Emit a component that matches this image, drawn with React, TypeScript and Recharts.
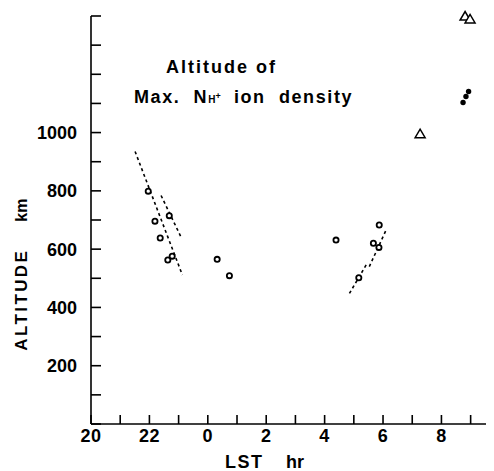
import React from 'react';
import { ScatterChart, Scatter, XAxis, YAxis, ReferenceLine } from 'recharts';

// ---- data (LST in hours, altitude in km) ----
const circleLST = [21.96, 22.19, 22.68, 22.37, 22.63, 22.78, 0.32, 0.74, 4.39, 5.87, 5.67, 5.86, 5.17];
const circleAlt = [799, 696, 715, 638, 563, 576, 565, 509, 631, 683, 620, 606, 502];

const triangleLST = [7.27, 8.81, 8.98];
const triangleAlt = [996, 1400, 1390];

const filledLST = [8.74, 8.84, 8.93];
const filledAlt = [1103, 1124, 1141];

const seg1LST = [21.51, 23.13];
const seg1Alt = [935, 511];
const seg2LST = [22.4, 23.07];
const seg2Alt = [784, 644];
const seg3LST = [4.85, 5.47];
const seg3Alt = [448, 554];
const seg4LST = [5.53, 6.13];
const seg4Alt = [540, 671];

const xTickHours = [0, 1, 2, 3, 4, 5, 6, 7, 8, 9, 10, 11, 12, 13]; // hours after 20 LST
const xLabelHours = [20, 22, 0, 2, 4, 6, 8];
const yTicks = [0, 100, 200, 300, 400, 500, 600, 700, 800, 900, 1000, 1100, 1200, 1300, 1400];
const yLabels = [200, 400, 600, 800, 1000];

const START_HOUR = 20;
const toT = (lst: number) => (lst - START_HOUR + 24) % 24;
const pts = (xs: number[], ys: number[]) => xs.map((v, i) => ({ x: toT(v), y: ys[i] }));

const FONT = '"Liberation Sans", Arial, sans-serif';

const XTick = (props: any) => {
  const { x, y, payload } = props;
  const t = payload.value as number;
  const hour = (START_HOUR + t) % 24;
  const show = xLabelHours.includes(hour) && t % 2 === 0;
  return (
    <g>
      <line x1={x} y1={y} x2={x} y2={y - 9} stroke="#000" strokeWidth={1.6} />
      {show && (
        <text x={x} y={y + 18} textAnchor="middle" fontFamily={FONT} fontWeight="bold" fontSize={18} letterSpacing={0.5} fill="#000">
          {String(hour)}
        </text>
      )}
    </g>
  );
};

const YTick = (props: any) => {
  const { x, y, payload } = props;
  const v = payload.value as number;
  return (
    <g>
      <line x1={x} y1={y} x2={x + 10} y2={y} stroke="#000" strokeWidth={1.6} />
      {yLabels.includes(v) && (
        <text x={x - 14} y={y} dy="0.36em" textAnchor="end" fontFamily={FONT} fontWeight="bold" fontSize={18} fill="#000">
          {String(v)}
        </text>
      )}
    </g>
  );
};

const CircleShape = (p: any) => (
  <circle cx={p.cx} cy={p.cy} r={2.6} fill="#fff" stroke="#000" strokeWidth={1.8} />
);
const TriangleShape = (p: any) => (
  <polygon
    points={`${p.cx - 5},${p.cy + 4} ${p.cx + 5},${p.cy + 4} ${p.cx},${p.cy - 4.5}`}
    fill="#fff"
    stroke="#000"
    strokeWidth={1.5}
    strokeLinejoin="miter"
  />
);
const FilledShape = (p: any) => <circle cx={p.cx} cy={p.cy} r={2.7} fill="#000" />;

const YAxisText = () => (
  <g fontFamily={FONT} fontWeight="bold" fill="#000">
    <text transform="translate(19,342.7) rotate(-90)" fontSize={17} letterSpacing={2.4} textAnchor="start">
      ALTITUDE
    </text>
    <text transform="translate(19,213.7) rotate(-90)" fontSize={16} textAnchor="start">
      km
    </text>
    <text x={158} y={65} fontSize={18} letterSpacing={2} style={{ whiteSpace: 'pre' }}>
      Altitude of
    </text>
    <text x={126} y={95} fontSize={18} letterSpacing={1.6} style={{ whiteSpace: 'pre' }}>
      <tspan>{'Max.  N'}</tspan>
      <tspan fontSize={10} letterSpacing={0}>H</tspan>
      <tspan fontSize={9} dy={-4} letterSpacing={0}>+</tspan>
      <tspan dy={4}>{'  ion  density'}</tspan>
    </text>
  </g>
);

const XAxisText = () => (
  <g fontFamily={FONT} fontWeight="bold" fill="#000" fontSize={18}>
    <text x={217} y={460} letterSpacing={1.5}>LST</text>
    <text x={278} y={460}>hr</text>
  </g>
);

const dash = { stroke: '#000', strokeWidth: 1.6, strokeDasharray: '3 3', ifOverflow: 'visible' as const };

export default function App() {
  return (
    <ScatterChart width={486} height={463} margin={{ top: 8, right: 0, bottom: 0, left: 0 }}>
      <XAxis
        type="number"
        dataKey="x"
        domain={[0, 13.8]}
        ticks={xTickHours}
        interval={0}
        tickLine={false}
        tickSize={0}
        tickMargin={0}
        tick={<XTick />}
        axisLine={{ stroke: '#000', strokeWidth: 1.6 }}
        height={47}
        label={<XAxisText />}
      />
      <YAxis
        type="number"
        dataKey="y"
        domain={[0, 1400]}
        ticks={yTicks}
        interval={0}
        tickLine={false}
        tickSize={0}
        tickMargin={0}
        tick={<YTick />}
        axisLine={{ stroke: '#000', strokeWidth: 1.6 }}
        width={83}
        label={<YAxisText />}
      />
      <ReferenceLine segment={pts(seg1LST, seg1Alt)} {...dash} />
      <ReferenceLine segment={pts(seg2LST, seg2Alt)} {...dash} />
      <ReferenceLine segment={pts(seg3LST, seg3Alt)} {...dash} />
      <ReferenceLine segment={pts(seg4LST, seg4Alt)} {...dash} />
      <Scatter data={pts(circleLST, circleAlt)} shape={<CircleShape />} isAnimationActive={false} />
      <Scatter data={pts(triangleLST, triangleAlt)} shape={<TriangleShape />} isAnimationActive={false} />
      <Scatter data={pts(filledLST, filledAlt)} shape={<FilledShape />} isAnimationActive={false} />
    </ScatterChart>
  );
}
